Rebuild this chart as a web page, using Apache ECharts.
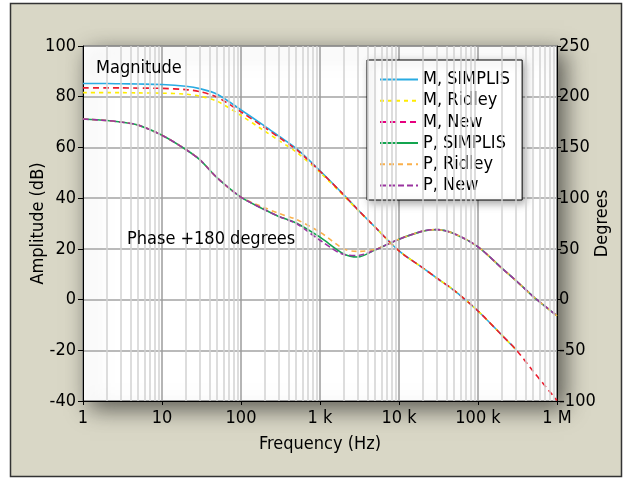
<!DOCTYPE html>
<html>
<head>
<meta charset="utf-8">
<script src="https://cdn.jsdelivr.net/npm/echarts@6/dist/echarts.min.js"></script>
<style>
  html, body { margin: 0; padding: 0; background: #fff; }
  #chart { width: 632px; height: 480px; }
</style>
</head>
<body>
<div id="chart"></div>
<script>
// frequency points (Hz)
const freq = [1, 2, 3, 5, 10, 20, 30, 50, 100, 200, 300, 500, 1e3, 2e3, 3e3, 5e3, 1e4, 2e4, 3e4, 5e4, 1e5, 2e5, 3e5, 5e5, 1e6];

// magnitude (dB), left axis
const magSimplis = [85.2, 85.2, 85.1, 85.0, 84.8, 84.1, 83.2, 81.0, 74.8, 68.4, 64.5, 59.6, 50.8, 41.3, 35.5, 28.5, 19.2, 12.5, 8.5, 3.6, -4.5, -14.0, -19.6, null, null];
const magRidley = [81.6, 81.6, 81.6, 81.5, 81.4, 81.0, 80.2, 78.2, 72.6, 66.4, 62.8, 58.2, 50.1, 40.9, 35.3, 28.5, 19.2, 12.5, 8.5, 3.6, -4.5, -14.0, -19.6, null, null];
const magNew = [83.5, 83.5, 83.5, 83.4, 83.3, 82.8, 82.0, 79.8, 74.0, 67.8, 64.0, 59.2, 50.6, 41.3, 35.5, 28.5, 19.2, 12.5, 8.5, 3.6, -4.5, -14.0, -19.6, -28.3, -39.8];

// phase + 180 (degrees), right axis
const phSimplis = [178, 176.5, 175, 172, 162, 148, 138, 120, 101, 88.5, 82, 75.5, 61.5, 45, 42, 49, 59.5, 67.5, 69, 65, 52, 31, 19, 3, -16];
const phRidley = [178, 176.5, 175, 172, 162, 148, 138, 120, 101, 90.5, 85, 79, 66.5, 50, 47.5, 49.5, 59.5, 67.5, 69, 65, 52, 31, 19, 3, -16];
const phNew = [178, 176.5, 175, 172, 162, 148, 138, 120, 101, 88.5, 82, 75, 58.5, 44.5, 43.5, 49, 59.5, 67.5, 69, 65, 52, 31, 19, 3, -16];

// axis ticks
const xTickLabels = ['1', '10', '100', '1 k', '10 k', '100 k', '1 M'];
const decades = [1, 10, 100, 1e3, 1e4, 1e5];
const minorSteps = [2, 3, 4, 5, 6, 7, 8, 9];

const FONT = "'Liberation Sans Narrow', 'DejaVu Sans Condensed', 'Liberation Sans', sans-serif";
const FS = 18;

const minorLines = [];
decades.forEach(d => minorSteps.forEach(m => minorLines.push({ xAxis: d * m })));

function pairs(vals) {
    return freq.map((f, i) => [f, vals[i]]);
}

const chart = echarts.init(document.getElementById('chart'));

function lineSeries(name, vals, axis, color, type, width) {
    return {
        name: name,
        type: 'line',
        yAxisIndex: axis,
        data: pairs(vals),
        smooth: 0.3,
        showSymbol: false,
        symbol: 'none',
        z: 3,
        lineStyle: { color: color, width: width, type: type },
        itemStyle: { color: color }
    };
}

const option = {
    backgroundColor: '#fff',
    animation: false,
    graphic: [
        {
            type: 'rect', z: -10,
            shape: { x: 10.5, y: 3.5, width: 611, height: 473 },
            style: { fill: '#d9d7c6', stroke: '#333', lineWidth: 1.5 }
        },
        {
            type: 'text', left: 96, top: 59, z: 10,
            style: { text: 'Magnitude', font: FS + "px " + FONT, fill: '#000' }
        },
        {
            type: 'text', left: 127, top: 230, z: 10,
            style: { text: 'Phase +180 degrees', font: FS + "px " + FONT, fill: '#000' }
        }
    ],
    grid: {
        left: 83, right: 75, top: 46, bottom: 79,
        show: true,
        backgroundColor: '#fff',
        borderColor: '#000',
        borderWidth: 1,
        shadowColor: 'rgba(0,0,0,0.6)',
        shadowBlur: 22,
        shadowOffsetX: 7,
        shadowOffsetY: 7
    },
    legend: {
        orient: 'vertical',
        left: 367, top: 60,
        padding: [10, 12, 5, 12],
        itemGap: 2.2,
        itemWidth: 38,
        itemHeight: 14,
        backgroundColor: '#fff',
        borderColor: '#000',
        borderWidth: 1,
        shadowColor: 'rgba(0,0,0,0.35)',
        shadowBlur: 8,
        shadowOffsetX: 3,
        shadowOffsetY: 3,
        itemStyle: { opacity: 0 },
        textStyle: { fontFamily: FONT, fontSize: FS, lineHeight: 19, color: '#000' },
        data: [
            'M, SIMPLIS',
            'M, Ridley',
            { name: 'M, New', lineStyle: { color: '#e6007e' } },
            'P, SIMPLIS',
            'P, Ridley',
            'P, New'
        ]
    },
    xAxis: {
        type: 'log',
        logBase: 10,
        min: 1, max: 1e6,
        splitNumber: 6,
        name: 'Frequency (Hz)',
        nameLocation: 'middle',
        nameGap: 34,
        nameTextStyle: { fontFamily: FONT, fontSize: FS, color: '#000' },
        axisLine: { onZero: false, lineStyle: { color: '#000', width: 1 } },
        axisTick: { show: true, length: 4, lineStyle: { color: '#000' } },
        axisLabel: {
            margin: 8,
            fontFamily: FONT, fontSize: FS, color: '#000',
            formatter: v => xTickLabels[Math.round(Math.log10(v))]
        },
        splitLine: { show: true, lineStyle: { color: '#9c9c9c', width: 1.5 } }
    },
    yAxis: [
        {
            type: 'value',
            min: -40, max: 100, interval: 20,
            name: 'Amplitude (dB)',
            nameLocation: 'middle',
            nameGap: 36,
            nameMoveOverlap: false,
            nameTextStyle: { fontFamily: FONT, fontSize: FS, color: '#000' },
            axisLine: { show: true, onZero: false, lineStyle: { color: '#000' } },
            axisTick: { show: true, length: 5, lineStyle: { color: '#000' } },
            axisLabel: { margin: 7, fontFamily: FONT, fontSize: FS, color: '#000' },
            splitLine: { show: true, lineStyle: { color: '#a3a3a3', width: 1.5 } }
        },
        {
            type: 'value',
            min: -100, max: 250, interval: 50,
            position: 'right',
            name: 'Degrees',
            nameLocation: 'middle',
            nameGap: 36,
            nameMoveOverlap: false,
            nameTextStyle: { fontFamily: FONT, fontSize: FS, color: '#000' },
            axisLine: { show: true, onZero: false, lineStyle: { color: '#000' } },
            axisTick: { show: true, length: 4, lineStyle: { color: '#000' } },
            axisLabel: { margin: 2, fontFamily: FONT, fontSize: FS, color: '#000' },
            splitLine: { show: false }
        }
    ],
    series: [
        {
            name: 'minor-grid',
            type: 'line',
            data: [],
            z: 1,
            markLine: {
                silent: true,
                symbol: 'none',
                label: { show: false },
                lineStyle: { color: '#d2d2d2', type: 'solid', width: 1.5 },
                data: minorLines
            }
        },
        lineSeries('M, SIMPLIS', magSimplis, 0, '#29abe2', 'solid', 1.6),
        lineSeries('M, Ridley', magRidley, 0, '#ffec00', [4, 4], 1.6),
        lineSeries('M, New', magNew, 0, '#ec1c2e', [6, 4], 1.6),
        lineSeries('P, SIMPLIS', phSimplis, 1, '#13a54f', 'solid', 1.6),
        lineSeries('P, Ridley', phRidley, 1, '#fbb04a', [5, 4], 1.6),
        lineSeries('P, New', phNew, 1, '#9a34a0', [6, 3], 1.6)
    ]
};

chart.setOption(option);
</script>
</body>
</html>
